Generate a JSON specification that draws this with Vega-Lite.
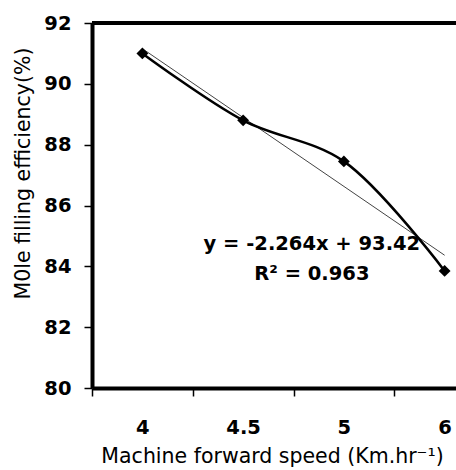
{
  "$schema": "https://vega.github.io/schema/vega-lite/v6.json",
  "autosize": {"type": "none"},
  "padding": {"left": 92, "top": 23, "right": 0, "bottom": 82},
  "width": 364,
  "height": 365,
  "background": "white",
  "config": {"view": {"stroke": null}, "font": "DejaVu Sans"},
  "datasets": {
    "obs": [
      {"speed": "4", "eff": 91.0},
      {"speed": "4.5", "eff": 88.8},
      {"speed": "5", "eff": 87.45},
      {"speed": "6", "eff": 83.85}
    ],
    "trend": [
      {"speed": "4", "fit": 91.156},
      {"speed": "6", "fit": 84.364}
    ],
    "label": [
      {"speed": "5", "ypos": 84.75, "text": "y = -2.264x + 93.42"},
      {"speed": "5", "ypos": 83.75, "text": "R² = 0.963"}
    ],
    "frame": [{"top": 92}]
  },
  "layer": [
    {
      "data": {"name": "frame"},
      "mark": {"type": "rule", "color": "black", "strokeWidth": 4},
      "encoding": {
        "y": {"field": "top", "type": "quantitative", "scale": {"domain": [80, 92], "nice": false, "zero": false},
          "axis": {
            "values": [80, 82, 84, 86, 88, 90, 92],
            "grid": false,
            "domainColor": "black", "domainWidth": 4,
            "tickColor": "black", "tickSize": 8, "tickWidth": 1.5,
            "labelFontSize": 19.5, "labelFontWeight": "bold", "labelColor": "black", "labelPadding": 13,
            "title": "M0le filling efficiency(%)",
            "titleFontSize": 20.5, "titleFontWeight": "normal", "titleColor": "black",
            "titleX": -69, "titleY": 150, "titleAlign": "center", "titleBaseline": "middle", "titleAngle": -90
          }
        }
      }
    },
    {
      "data": {"name": "trend"},
      "mark": {"type": "line", "color": "#444444", "strokeWidth": 1},
      "encoding": {
        "x": {"field": "speed", "type": "ordinal",
          "scale": {"type": "band", "domain": ["4", "4.5", "5", "6"], "range": [0, 403], "paddingInner": 0, "paddingOuter": 0},
          "axis": {
            "tickBand": "extent",
            "labelAngle": 0,
            "domainColor": "black", "domainWidth": 4,
            "tickColor": "black", "tickSize": 8, "tickWidth": 1.5,
            "labelFontSize": 19.5, "labelFontWeight": "bold", "labelColor": "black", "labelPadding": 22,
            "title": "Machine forward speed (Km.hr⁻¹)",
            "titleFontSize": 20.5, "titleFontWeight": "normal", "titleColor": "black",
            "titleX": 180, "titleY": 74, "titleBaseline": "alphabetic", "titleAlign": "center"
          }
        },
        "y": {"field": "fit", "type": "quantitative"}
      }
    },
    {
      "data": {"name": "obs"},
      "mark": {"type": "line", "interpolate": "catmull-rom", "color": "black", "strokeWidth": 2.5},
      "encoding": {
        "x": {"field": "speed", "type": "ordinal"},
        "y": {"field": "eff", "type": "quantitative"}
      }
    },
    {
      "data": {"name": "obs"},
      "mark": {"type": "point", "shape": "diamond", "filled": true, "color": "black", "size": 140, "opacity": 1},
      "encoding": {
        "x": {"field": "speed", "type": "ordinal"},
        "y": {"field": "eff", "type": "quantitative"}
      }
    },
    {
      "data": {"name": "label"},
      "mark": {"type": "text", "fontSize": 19.5, "fontWeight": "bold", "color": "black", "align": "center", "baseline": "middle", "dx": -32},
      "encoding": {
        "x": {"field": "speed", "type": "ordinal"},
        "y": {"field": "ypos", "type": "quantitative"},
        "text": {"field": "text"}
      }
    }
  ]
}
